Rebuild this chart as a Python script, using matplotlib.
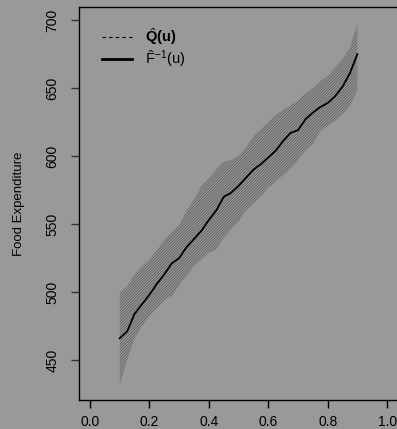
import numpy as np
import matplotlib
matplotlib.use("Agg")
import matplotlib.pyplot as plt
from matplotlib.lines import Line2D

plt.rcParams['font.family'] = ['Liberation Sans', 'DejaVu Sans']
plt.rcParams['mathtext.fontset'] = 'custom'
plt.rcParams['mathtext.rm'] = 'Liberation Sans'
plt.rcParams['mathtext.it'] = 'Liberation Sans'
plt.rcParams['mathtext.bf'] = 'Liberation Sans:bold'
plt.rcParams['hatch.linewidth'] = 0.5

# quantile levels
u = [0.100, 0.125, 0.150, 0.175, 0.200, 0.225, 0.250, 0.275, 0.300, 0.325,
     0.350, 0.375, 0.400, 0.425, 0.450, 0.475, 0.500, 0.525, 0.550, 0.575,
     0.600, 0.625, 0.650, 0.675, 0.700, 0.725, 0.750, 0.775, 0.800, 0.825,
     0.850, 0.875, 0.900]

# inverse empirical cdf estimate
f_inv = [466, 471, 484, 491, 498, 506, 513, 521, 525, 533,
         539, 545, 553, 560, 570, 573, 578, 584, 590, 594,
         599, 604, 611, 617, 619, 627, 632, 636, 639, 644,
         651, 661, 675]

# confidence band
band_hi = [500, 504, 513, 519, 524, 531, 538, 544, 549, 560,
           568, 578, 584, 590, 596, 597, 600, 606, 615, 620,
           625, 630, 634, 637, 641, 646, 650, 655, 659, 665,
           671, 680, 697]
band_lo = [431, 450, 466, 475, 482, 488, 494, 497, 505, 512,
           519, 524, 529, 531, 540, 546, 552, 560, 565, 570,
           577, 581, 586, 591, 597, 604, 609, 618, 622, 626,
           631, 637, 648]

xticks = [0.0, 0.2, 0.4, 0.6, 0.8, 1.0]
yticks = [450, 500, 550, 600, 650, 700]

bg = "#999999"
fig = plt.figure(figsize=(3.97, 4.29), dpi=100, facecolor=bg)
ax = fig.add_axes([0.199, 0.0676, 0.806, 0.916])
ax.set_facecolor(bg)

ax.fill_between(u, band_lo, band_hi, facecolor="none", edgecolor="#555555",
                hatch="/" * 12, linewidth=0)
ax.plot(u, f_inv, color="black", lw=1.3)

ax.set_xlim(-0.037, 1.04)
ax.set_ylim(420.6, 709.6)
ax.set_xticks(xticks)
ax.set_xticklabels([f"{t:.1f}" for t in xticks])
ax.set_yticks(yticks)
ax.set_yticklabels([str(t) for t in yticks], rotation=90, va="center")
ax.tick_params(axis="both", direction="out", length=6, width=1, colors="black",
               labelsize=10)
ax.tick_params(axis="y", colors="#333333", labelcolor="black", pad=8)
ax.tick_params(axis="x", pad=5)
for s in ax.spines.values():
    s.set_linewidth(1)
    s.set_color("black")

ax.set_ylabel("Food Expenditure", fontsize=9.5, labelpad=15)

handles = [Line2D([], [], color="black", lw=0.8, ls=(0, (3, 3))),
           Line2D([], [], color="black", lw=2)]
labels = [r"$\hat{\mathbf{Q}}\mathbf{(u)}$", r"$\hat{F}^{-1}(u)$"]
ax.legend(handles, labels, loc="upper left", bbox_to_anchor=(0.053, 0.965),
          frameon=False, fontsize=10.5, handlelength=2.05, labelspacing=0.05,
          handletextpad=0.9, borderaxespad=0)

fig.savefig("out.png", dpi=100, facecolor=bg)
